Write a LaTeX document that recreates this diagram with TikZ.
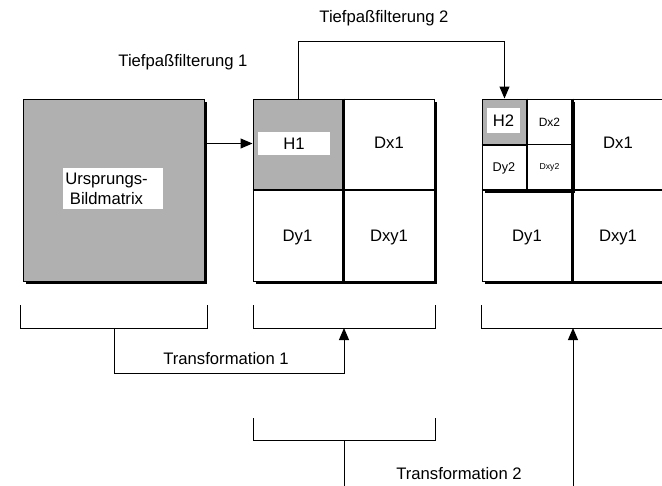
\documentclass[tikz,border=0pt]{standalone}
\usepackage{fontspec}
\setmainfont{Liberation Sans}
\usetikzlibrary{arrows.meta,shadows}
\definecolor{shade}{gray}{0.69}
\begin{document}
\begin{tikzpicture}[x=0.75pt,y=-0.75pt,
  lw/.style={line width=0.75pt},
  thk/.style={line width=1.8pt},
  shad/.style={drop shadow={shadow xshift=2.4pt, shadow yshift=-2.4pt, fill=black, opacity=1}},
  box/.style={draw, lw, inner sep=0pt, minimum width=135.75pt, minimum height=136.5pt, shad},
  quad/.style={draw, lw, inner sep=0pt},
  lab/.style={inner sep=0pt, font=\fontsize{12.5pt}{15pt}\selectfont},
  labw/.style={lab, fill=white},
  arr/.style={lw, -{Triangle[length=9pt,width=7.5pt]}},
  con/.style={lw}
]
\useasboundingbox (0,0) rectangle (662,486);

% ---------- Box 1 ----------
\node[box, fill=shade] (box1) at (113.5,190) {};
\node[labw, minimum width=75pt, minimum height=30.75pt] (ulab) at (113,188.5) {};
\node[lab, align=center] (utext) at (106.5,188.5) {Ursprungs-\\Bildmatrix};

% ---------- Box 2 ----------
\node[box, fill=white] (box2) at (343.5,190) {};
\node[quad, fill=shade, minimum width=67.5pt, minimum height=68.25pt] (h1q) at (298.5,144.5) {};
\draw[thk] (box2.north) -- (box2.south);
\draw[thk] (box2.west) -- (box2.east);
\node[labw, minimum width=54pt, minimum height=17.25pt] (h1) at (294,143.5) {H1};
\node[lab] (dx1a) at (389,143) {Dx1};
\node[lab] (dy1a) at (297.5,237) {Dy1};
\node[lab] (dxy1a) at (389,237) {Dxy1};

% ---------- Box 3 ----------
\node[box, fill=white] (box3) at (572.5,190) {};
\node[quad, fill=white, minimum width=67.5pt, minimum height=68.25pt, shad] (sb) at (527,144.5) {};
\node[quad, fill=shade, minimum width=33.75pt, minimum height=34.5pt] (h2q) at (504.5,122) {};
\draw[line width=1.3pt] (sb.north) -- (sb.south);
\draw[line width=1.3pt] (sb.west) -- (sb.east);
\draw[thk] (box3.north) -- (box3.south);
\draw[thk] (box3.west) -- (box3.east);
\node[labw, minimum width=24.75pt, minimum height=18.75pt] (h2) at (503.5,120.5) {H2};
\node[lab, font=\fontsize{9pt}{11pt}\selectfont] (dx2) at (549.5,122) {Dx2};
\node[lab, font=\fontsize{9.5pt}{11pt}\selectfont] (dy2) at (504,168) {Dy2};
\node[lab, font=\fontsize{6.5pt}{8pt}\selectfont] (dxy2) at (549.5,167) {Dxy2};
\node[lab] (dx1b) at (618,143) {Dx1};
\node[lab] (dy1b) at (527,237) {Dy1};
\node[lab] (dxy1b) at (618,237) {Dxy1};

% ---------- Tiefpass arrows ----------
\draw[arr] (box1.east |- h1.center) -- (box2.west |- h1.center);
\draw[arr] (h1q.north) -- ++(0,-57) -| (h2q.north);
\node[lab] (tp1) at (183,62) {Tiefpaßfilterung 1};
\node[lab] (tp2) at (384,18) {Tiefpaßfilterung 2};

% ---------- Brackets ----------
\coordinate (b1m) at (114,328);
\coordinate (b2m) at (344,328);
\coordinate (b3m) at (573,328);
\coordinate (b4m) at (344,440);
\draw[con] (20,305) |- (207,328) -- (207,305);
\draw[con] (253,305) |- (435,328) -- (435,305);
\draw[con] (481,305) |- (670,328);
\draw[con] (253,418) |- (435,440) -- (435,418);

\draw[arr] (b1m) |- (344,373) -- (b2m);
\draw[arr] (b4m) |- (573,500) -- (b3m);
\node[lab] (tr1) at (226,359) {Transformation 1};
\node[lab] (tr2) at (459,474) {Transformation 2};
\end{tikzpicture}
\end{document}
